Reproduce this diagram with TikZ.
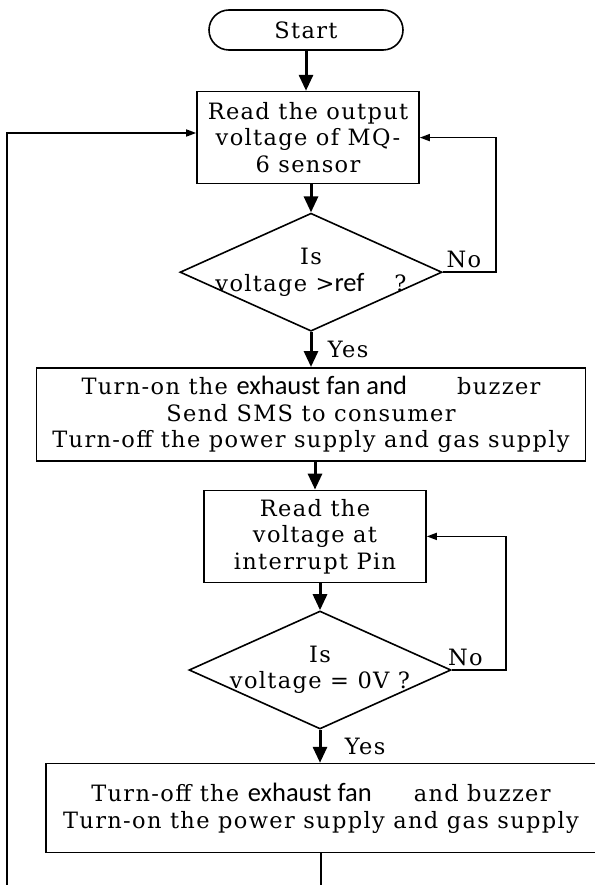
\documentclass[tikz,border=0pt]{standalone}
\usepackage{fontspec}
\setmainfont{DejaVu Serif}[LetterSpace=6]
\newfontfamily\sanspart{Carlito}
\usepackage{tikz}
\usetikzlibrary{positioning}
\usetikzlibrary{calc}
\usetikzlibrary{shapes}
\usetikzlibrary{arrows.meta}
\tikzset{stepbox/.style={draw, line width=1.6pt, align=center, inner sep=0pt}}
\tikzset{decision/.style={draw, diamond, aspect=2.2, line width=1.6pt, align=center, inner xsep=-35pt, inner ysep=0pt, minimum width=262pt, minimum height=118pt}}
\tikzset{flow/.style={line width=3pt, -{Triangle[length=16pt,width=14pt]}}}
\tikzset{backflow/.style={line width=1.5pt, -{Triangle[length=10pt,width=7pt]}}}
\newcommand{\sanstext}[1]{{\sanspart\fontsize{26.5}{26.5}\selectfont #1}}

\begin{document}
\begin{tikzpicture}[x=1pt, y=-1pt, font=\fontsize{22.5}{26.5}\selectfont, node distance=28pt]
\useasboundingbox (0,0) rectangle (594,885);
\node[stepbox, rounded corners=20pt, minimum width=194pt, minimum height=40pt] (start) at (306,30) {Start};
\node[stepbox, minimum width=222pt, minimum height=92pt, below=40pt of start, xshift=2pt] (read1) {Read the output\\voltage of MQ-\\6 sensor};
\node[decision, below=of read1, xshift=3pt] (check1) {Is\\voltage >\sanstext{ref}\hspace{30pt}?};
\node[stepbox, minimum width=549pt, minimum height=93pt, below=35pt of check1] (alarm) {Turn-on the \sanstext{exhaust fan and}\hspace{50pt}buzzer\\Send SMS to consumer\\Turn-off the power supply and gas supply};
\node[stepbox, minimum width=222pt, minimum height=92pt, below=of alarm, xshift=4pt] (read2) {Read the\\voltage at\\interrupt Pin};
\node[decision, below=27pt of read2, xshift=5pt] (check2) {Is\\voltage = 0V ?};
\node[stepbox, minimum width=550pt, minimum height=89pt, below=33pt of check2, xshift=1pt] (reset) {Turn-off the \sanstext{exhaust fan}\hspace{42pt}and buzzer\\Turn-on the power supply and gas supply};
\coordinate (rim) at (7,133);

\draw[flow] (start.south) -- (start.south |- read1.north);
\draw[flow] (read1.south -| check1.north) -- (check1.north);
\draw[flow] (check1.south) -- node[right=12pt] {Yes} (check1.south |- alarm.north);
\draw[backflow] (check1.east) -- node[above, pos=0.4] {No} ++(53,0) |- (read1.east);
\draw[flow] (alarm.south -| read2.north) -- (read2.north);
\draw[flow] (read2.south -| check2.north) -- (check2.north);
\draw[flow] (check2.south) -- node[right=20pt] {Yes} (check2.south |- reset.north);
\draw[backflow] (check2.east) -- node[above, pos=0.25] {No} ++(54,0) |- (read2.east);
\draw[backflow] (reset.south) -- ++(0,35) -| (rim) -- (read1.west |- rim);
\end{tikzpicture}
\end{document}
